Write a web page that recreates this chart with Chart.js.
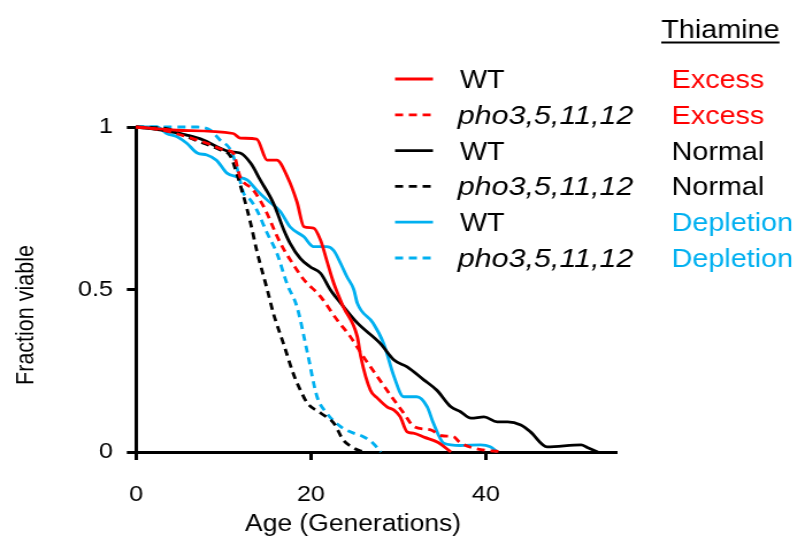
<!DOCTYPE html>
<html>
<head>
<meta charset="utf-8">
<script src="https://cdn.jsdelivr.net/npm/chart.js@4.4.0/dist/chart.umd.min.js"></script>
<style>
  html, body { margin: 0; padding: 0; background: #fff; overflow: hidden; }
  /* the reference is stretched sideways, so the chart is drawn narrow and widened */
  #wrap { position: absolute; left: 0; top: 0; width: 693px; height: 549px;
          transform: scaleX(1.15); transform-origin: 0 0; }
</style>
</head>
<body>
<div id="wrap"><canvas id="lifespanChart"></canvas></div>
<script>
// Tick values
const ageTicks = [0, 20, 40];
const fracTicks = [0, 0.5, 1];

// Survival curves: age (generations) and fraction viable
const wtExcessAge  = [0, 4.7, 11.1, 11.9, 13.8, 15.0, 16.1, 17.3, 18.4, 19.2, 20.3, 21.1, 21.8, 22.6, 23.7, 25.3, 25.7, 26.8, 27.6, 28.7, 29.5, 30.2, 31.0, 31.7, 33.0, 34.5, 36.0];
const wtExcessFrac = [1, 0.99, 0.98, 0.966, 0.963, 0.898, 0.898, 0.847, 0.77, 0.693, 0.689, 0.652, 0.59, 0.52, 0.447, 0.355, 0.293, 0.19, 0.166, 0.139, 0.129, 0.109, 0.062, 0.058, 0.045, 0.03, 0];

const phoExcessAge  = [0, 3.0, 5.8, 8.1, 10.0, 11.1, 11.9, 13.4, 14.6, 16.5, 18.4, 19.2, 21.1, 23.0, 24.5, 26.0, 27.6, 29.5, 30.6, 31.8, 33.7, 35.0, 36.3, 37.0, 38.6, 42.0];
const phoExcessFrac = [1, 0.99, 0.97, 0.95, 0.93, 0.92, 0.847, 0.806, 0.755, 0.643, 0.56, 0.53, 0.478, 0.406, 0.355, 0.293, 0.232, 0.16, 0.12, 0.078, 0.068, 0.05, 0.047, 0.03, 0.012, 0];

const wtNormalAge  = [0, 3.1, 5.8, 7.7, 9.2, 10.8, 11.9, 13.1, 14.2, 15.7, 16.9, 17.6, 18.8, 19.9, 21.1, 22.2, 23.4, 25.3, 27.9, 29.5, 31.0, 32.9, 34.4, 36.0, 37.1, 38.3, 39.8, 41.3, 42.5, 44.0, 45.1, 47.0, 50.9, 51.6, 52.8];
const wtNormalFrac = [1, 0.99, 0.975, 0.96, 0.94, 0.924, 0.92, 0.889, 0.837, 0.766, 0.683, 0.643, 0.595, 0.57, 0.55, 0.5, 0.458, 0.397, 0.335, 0.283, 0.262, 0.222, 0.19, 0.139, 0.124, 0.104, 0.108, 0.093, 0.093, 0.083, 0.062, 0.016, 0.022, 0.014, 0];

const phoNormalAge  = [0, 3.5, 5.8, 7.7, 9.6, 10.8, 11.5, 12.3, 13.1, 13.8, 15.0, 15.7, 16.9, 18.0, 18.8, 19.6, 21.1, 22.6, 23.7, 24.9, 26.0];
const phoNormalFrac = [1, 0.995, 0.97, 0.95, 0.93, 0.91, 0.858, 0.786, 0.704, 0.62, 0.5, 0.427, 0.33, 0.24, 0.19, 0.15, 0.12, 0.089, 0.037, 0.012, 0];

const wtDepletionAge  = [0, 2.4, 3.5, 4.7, 5.8, 7.0, 8.1, 9.2, 10.4, 11.5, 12.7, 13.8, 15.0, 16.5, 17.6, 19.2, 20.3, 21.8, 22.6, 23.4, 24.1, 24.9, 25.3, 27.1, 28.3, 29.5, 30.6, 32.1, 33.3, 34.0, 35.2, 37.1, 39.4, 40.5, 41.3];
const wtDepletionFrac = [1, 1, 0.98, 0.97, 0.95, 0.92, 0.914, 0.898, 0.858, 0.847, 0.837, 0.806, 0.775, 0.74, 0.693, 0.662, 0.632, 0.632, 0.62, 0.58, 0.54, 0.5, 0.458, 0.397, 0.335, 0.232, 0.17, 0.17, 0.139, 0.089, 0.027, 0.02, 0.022, 0.016, 0];

const phoDepletionAge  = [0, 4.7, 7.0, 8.5, 9.6, 10.8, 11.5, 12.3, 13.1, 13.8, 15.0, 16.1, 17.3, 18.4, 19.6, 20.7, 21.8, 23.4, 24.5, 26.0, 27.1, 28.0];
const phoDepletionFrac = [1, 1, 1, 0.99, 0.96, 0.93, 0.878, 0.796, 0.775, 0.745, 0.673, 0.612, 0.515, 0.447, 0.305, 0.17, 0.12, 0.078, 0.062, 0.047, 0.027, 0];

const strainNames = ['WT', 'pho3,5,11,12', 'WT', 'pho3,5,11,12', 'WT', 'pho3,5,11,12'];
const thiamineLevels = ['Excess', 'Excess', 'Normal', 'Normal', 'Depletion', 'Depletion'];

const RED = '#ff0000';
const BLACK = '#000000';
const BLUE = '#00b0f0';
const DASH = [7, 5];
const FONT = '"Liberation Sans", Arial, sans-serif';

function toPoints(ages, fracs) {
    return ages.map((a, i) => ({ x: a, y: fracs[i] }));
}

const seriesStyles = [
    { color: RED, dash: [] },
    { color: RED, dash: DASH },
    { color: BLACK, dash: [] },
    { color: BLACK, dash: DASH },
    { color: BLUE, dash: [] },
    { color: BLUE, dash: DASH }
];

const seriesData = [
    toPoints(wtExcessAge, wtExcessFrac),
    toPoints(phoExcessAge, phoExcessFrac),
    toPoints(wtNormalAge, wtNormalFrac),
    toPoints(phoNormalAge, phoNormalFrac),
    toPoints(wtDepletionAge, wtDepletionFrac),
    toPoints(phoDepletionAge, phoDepletionFrac)
];

// Legend, "Thiamine" header and axis titles drawn by hand
const sideText = {
    id: 'sideText',
    afterDraw(chart) {
        const ctx = chart.ctx;
        ctx.save();

        ctx.fillStyle = '#000';
        ctx.font = '25px ' + FONT;
        ctx.textBaseline = 'alphabetic';
        ctx.textAlign = 'left';
        ctx.fillText('Thiamine', 575, 38);
        const tw = ctx.measureText('Thiamine').width;
        ctx.fillRect(575, 41.5, tw, 2);

        for (let i = 0; i < strainNames.length; i++) {
            const y = 79 + i * 35.8;
            const st = seriesStyles[i];
            ctx.strokeStyle = st.color;
            ctx.lineWidth = 2.8;
            ctx.setLineDash(st.dash);
            ctx.beginPath();
            ctx.moveTo(343.5, y);
            ctx.lineTo(376.5, y);
            ctx.stroke();
            ctx.setLineDash([]);

            const italic = strainNames[i] !== 'WT';
            ctx.font = (italic ? 'italic 26.5px ' : '25px ') + FONT;
            ctx.fillStyle = '#000';
            ctx.fillText(strainNames[i], italic ? 398 : 400, y + 9);

            ctx.font = '25px ' + FONT;
            ctx.fillStyle = st.color;
            ctx.fillText(thiamineLevels[i], 584, y + 9);
        }

        ctx.fillStyle = '#000';
        ctx.font = '23px ' + FONT;
        ctx.textAlign = 'center';
        ctx.fillText('Age (Generations)', 307, 531);

        ctx.font = '21.5px ' + FONT;
        ctx.translate(29, 315);
        ctx.rotate(-Math.PI / 2);
        ctx.fillText('Fraction viable', 0, 0);

        ctx.restore();
    }
};

const axisStyle = {
    border: { color: '#000', width: 3 },
    grid: { drawOnChartArea: false, drawTicks: true, tickLength: 8, tickWidth: 3, tickColor: '#000' }
};

new Chart(document.getElementById('lifespanChart'), {
    type: 'line',
    data: {
        datasets: seriesData.map((pts, i) => ({
            label: strainNames[i] + ' ' + thiamineLevels[i],
            data: pts,
            borderColor: seriesStyles[i].color,
            borderDash: seriesStyles[i].dash,
            borderWidth: 2.8,
            pointRadius: 0,
            fill: false,
            cubicInterpolationMode: 'monotone',
            clip: 4
        }))
    },
    options: {
        responsive: true,
        maintainAspectRatio: false,
        animation: false,
        layout: { padding: { left: 0, right: 156.5, top: 127, bottom: 0 } },
        plugins: {
            legend: { display: false },
            tooltip: { enabled: false }
        },
        scales: {
            x: {
                type: 'linear',
                min: 0,
                max: 55,
                ...axisStyle,
                afterBuildTicks: scale => { scale.ticks = ageTicks.map(v => ({ value: v })); },
                afterFit: scale => { scale.height = 97; },
                ticks: { color: '#000', padding: 22, font: { family: FONT, size: 22 }, maxRotation: 0 }
            },
            y: {
                type: 'linear',
                min: 0,
                max: 1,
                ...axisStyle,
                afterBuildTicks: scale => { scale.ticks = fracTicks.map(v => ({ value: v })); },
                afterFit: scale => { scale.width = 118.3; },
                ticks: { color: '#000', padding: 12, font: { family: FONT, size: 22 }, callback: v => String(v) }
            }
        }
    },
    plugins: [sideText]
});
</script>
</body>
</html>
